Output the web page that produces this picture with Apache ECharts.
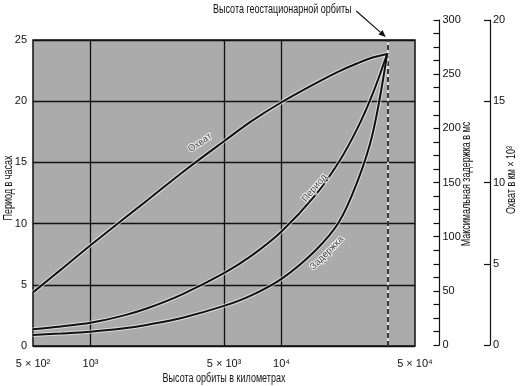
<!DOCTYPE html>
<html><head><meta charset="utf-8">
<script src="https://cdn.jsdelivr.net/npm/echarts@6/dist/echarts.min.js"></script>
<style>html,body{margin:0;padding:0;background:#fff}#c{width:520px;height:386px}</style>
</head><body><div id="c"></div>
<script>
// ---- data ----
const ALTITUDE_KM = [500, 700, 1000, 1500, 2000, 3000, 5000, 7000, 10000, 15000, 20000, 25000, 30000, 35786];
const PERIOD_H    = [1.36, 1.6, 1.9, 2.5, 3.1, 4.2, 5.95, 7.4, 9.35, 12.3, 15.05, 17.8, 20.6, 23.9];
const DELAY_MS    = [10.2, 11.5, 13.2, 16.3, 19.7, 25.9, 37, 47, 62, 88, 114.5, 152, 196, 270];
const COVERAGE_KKM = [3.3, 4.7, 6.2, 7.85, 9.0, 10.65, 12.6, 13.85, 15.0, 16.15, 16.9, 17.4, 17.75, 17.97];
const GEO_KM = 35786;
const X_TICKS = [500, 1000, 5000, 10000, 50000];
const X_TICK_LABELS = ['5 × 10²', '10³', '5 × 10³', '10⁴', '5 × 10⁴'];
const X_GRID = [1000, 5000, 10000];
const CURVE_NAMES = ['Охват', 'Период', 'Задержка'];
// label anchor points [altitude, hours] and rotation
const CURVE_LABELS = [[3740, 16.6, 34], [14900, 12.9, 50], [17300, 7.6, 45]];

const FONT = '"Liberation Sans", Arial, sans-serif';
const chart = echarts.init(document.getElementById('c'));

// layout
const G1 = {left: 33, right: 105, top: 40, bottom: 40};
const G2 = {left: 439.5, right: 30, top: 20, bottom: 41};
const h1 = 386 - G1.top - G1.bottom, h2 = 386 - G2.top - G2.bottom;
const DELAY_MAX = 300, COV_MAX = 20;
const delayHidden = DELAY_MAX * h1 / h2, covHidden = COV_MAX * h1 / h2;

const zip = (ys) => ALTITUDE_KM.map((x, i) => [x, ys[i]]);
const black = '#111';

function curve(name, ys, yIdx) {
  return [{
    type: 'line', xAxisIndex: 0, yAxisIndex: yIdx, data: zip(ys), smooth: 0.35,
    symbol: 'none', silent: true, lineStyle: {color: 'rgba(255,255,255,0.6)', width: 4}, z: 5
  }, {
    type: 'line', name, xAxisIndex: 0, yAxisIndex: yIdx, data: zip(ys), smooth: 0.35,
    symbol: 'none', silent: true, lineStyle: {color: black, width: 2}, z: 6
  }];
}

const gridLines = X_GRID.map(v => ({xAxis: v}));

const option = {
  animation: false,
  backgroundColor: '#fff',
  textStyle: {fontFamily: FONT},
  grid: [
    Object.assign({show: true, backgroundColor: '#ababab', borderColor: black, borderWidth: 1.5}, G1),
    Object.assign({show: false}, G2)
  ],
  xAxis: [{
    type: 'log', logBase: 10, min: 500, max: 50000, gridIndex: 0,
    axisLine: {show: false}, axisTick: {show: false},
    axisLabel: {customValues: X_TICKS, formatter: (v) => X_TICK_LABELS[X_TICKS.findIndex(t => Math.abs(t - v) < 1e-6 * t)] || '',
      color: black, fontSize: 11, margin: 12, fontFamily: FONT},
    splitLine: {show: false}
  }, {
    type: 'value', gridIndex: 1, show: false, min: 0, max: 1
  }],
  yAxis: [{
    type: 'value', gridIndex: 0, min: 0, max: 25, interval: 5,
    axisLine: {show: false}, axisTick: {show: false},
    axisLabel: {color: black, fontSize: 11, margin: 6, fontFamily: FONT},
    splitLine: {show: true, lineStyle: {color: black, width: 1.3}}
  }, {
    type: 'value', gridIndex: 0, min: 0, max: delayHidden, show: false
  }, {
    type: 'value', gridIndex: 0, min: 0, max: covHidden, show: false
  }, {
    type: 'value', gridIndex: 1, position: 'left', min: 0, max: DELAY_MAX, interval: 50,
    axisLine: {show: true, lineStyle: {color: black, width: 1.2}},
    axisTick: {show: true, length: 6, lineStyle: {color: black, width: 1.2}},
    minorTick: {show: true, splitNumber: 4, length: 6, lineStyle: {color: black, width: 1.2}},
    axisLabel: {inside: true, margin: 3, color: black, fontSize: 11, fontFamily: FONT},
    splitLine: {show: false}
  }, {
    type: 'value', gridIndex: 1, position: 'right', min: 0, max: COV_MAX, interval: 5,
    axisLine: {show: true, lineStyle: {color: black, width: 1.2}},
    axisTick: {show: true, inside: true, length: 6, lineStyle: {color: black, width: 1.2}},
    axisLabel: {margin: 3, color: black, fontSize: 11, fontFamily: FONT},
    splitLine: {show: false}
  }],
  series: [
    {
      type: 'line', xAxisIndex: 0, yAxisIndex: 0, data: [], silent: true, z: 2,
      markLine: {symbol: 'none', silent: true, label: {show: false},
        lineStyle: {color: black, width: 1.3, type: 'solid'}, data: gridLines}
    },
    {
      type: 'line', xAxisIndex: 0, yAxisIndex: 0, data: [], silent: true, z: 3,
      markLine: {symbol: 'none', silent: true, label: {show: false},
        lineStyle: {color: '#eeeeee', width: 1.6, type: 'solid'}, data: [{xAxis: GEO_KM}]}
    },
    {
      type: 'line', xAxisIndex: 0, yAxisIndex: 0, data: [], silent: true, z: 4,
      markLine: {symbol: 'none', silent: true, label: {show: false},
        lineStyle: {color: black, width: 1.6, type: [5, 3]}, data: [{xAxis: GEO_KM}]}
    },
    ...curve(CURVE_NAMES[0], COVERAGE_KKM, 2),
    ...curve(CURVE_NAMES[1], PERIOD_H, 0),
    ...curve(CURVE_NAMES[2], DELAY_MS, 1),
    {
      type: 'scatter', xAxisIndex: 0, yAxisIndex: 0, symbolSize: 0, silent: true, z: 8,
      data: CURVE_LABELS.map((p, i) => ({
        value: [p[0], p[1]],
        label: {show: true, position: 'inside', formatter: CURVE_NAMES[i], rotate: p[2],
          color: black, fontSize: 9.5, fontFamily: FONT, textBorderColor: '#fff', textBorderWidth: 2}
      }))
    },
    {type: 'line', xAxisIndex: 1, yAxisIndex: 3, data: [], silent: true}
  ]
};
chart.setOption(option);

// annotations & axis titles (narrow lettering emulated by horizontal scaling)
const tip = chart.convertToPixel({gridIndex: 0}, [GEO_KM, 25]);
const ax = tip[0] - 1.5, ay = tip[1] - 3;
const sx = tip[0] - 31, sy = 11;
const ang = Math.atan2(ay - sy, ax - sx);
const hl = 7, hw = 3;
const bx = ax - hl * Math.cos(ang), by = ay - hl * Math.sin(ang);
const NARROW = 0.75;
function title(text, x, y, rot) {
  return {type: 'text', x, y, rotation: rot, scaleX: NARROW,
    style: {text, fill: black, fontSize: 12, fontFamily: FONT, align: 'center', verticalAlign: 'middle'}};
}
const c1 = chart.convertToPixel({gridIndex: 0}, [Math.sqrt(500 * 50000), 12.5]);
chart.setOption({
  graphic: [
    title('Высота геостационарной орбиты', tip[0] - 105, 10, 0),
    {type: 'line', shape: {x1: sx, y1: sy, x2: bx, y2: by}, style: {stroke: black, lineWidth: 1.2}},
    {type: 'polygon', shape: {points: [[ax, ay],
      [bx + hw * Math.sin(ang), by - hw * Math.cos(ang)],
      [bx - hw * Math.sin(ang), by + hw * Math.cos(ang)]]}, style: {fill: black}},
    title('Высота орбиты в километрах', c1[0], 379, 0),
    title('Период в часах', 9, 188, Math.PI / 2),
    title('Максимальная задержка в мс', 467, 184, Math.PI / 2),
    title('Охват в км × 10³', 512, 180, Math.PI / 2)
  ]
});
</script></body></html>
